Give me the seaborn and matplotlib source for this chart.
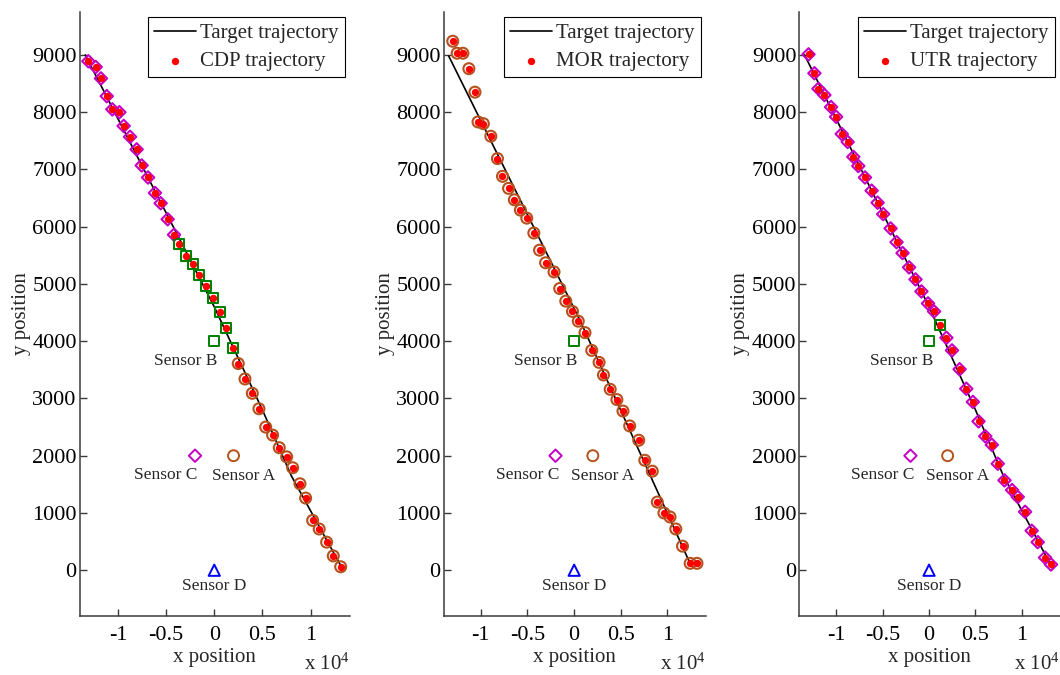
import matplotlib
matplotlib.use("Agg")
import matplotlib.pyplot as plt
import seaborn as sns
import numpy as np
import pandas as pd

# ---------------- data ----------------
sensor_names = ["A", "B", "C", "D"]
sensor_x = [2000, 0, -2000, 0]
sensor_y = [2000, 4000, 2000, 0]

target13_x = [-13400, 0, 5000, 8000, 13300]
target13_y = [9000, 4600, 2800, 1650, 30]
target2_x = [-13440, 610, 12500]
target2_y = [8980, 4370, 90]

cdp_x = [-13080, -12320, -11770, -11170, -10590, -9860, -9410, -8750, -8060, -7540,
         -6880, -6160, -5570, -4840, -4180,
         -3630, -2940, -2180, -1560, -860, -100, 590, 1210, 1910,
         2490, 3190, 3950, 4640, 5340, 6060, 6750, 7520, 8140, 8900, 9490, 10220,
         10900, 11670, 12360, 13130]
cdp_y = [8890, 8790, 8590, 8280, 8050, 8000, 7760, 7570, 7350, 7070,
         6860, 6590, 6410, 6130, 5860,
         5700, 5490, 5350, 5160, 4970, 4750, 4510, 4230, 3880,
         3610, 3340, 3090, 2820, 2500, 2360, 2140, 1980, 1790, 1510, 1260, 870,
         720, 490, 250, 60]
cdp_sensor = ["C"] * 15 + ["B"] * 9 + ["A"] * 16

mor_x = [-13010, -12540, -11920, -11280, -10630, -10300, -9730, -8930, -8220, -7680,
         -7030, -6410, -5760, -5080, -4320, -3710, -3060, -2160, -1550, -900,
         -180, 440, 1160, 1880, 2670, 3140, 3860, 4580, 5230, 5950,
         6920, 7570, 8370, 8910, 9620, 10270, 10890, 11610, 12430, 13160]
mor_y = [9240, 9030, 9030, 8760, 8350, 7830, 7800, 7580, 7190, 6880,
         6670, 6470, 6290, 6150, 5890, 5590, 5370, 5210, 4920, 4700,
         4520, 4350, 4150, 3840, 3630, 3410, 3160, 2980, 2780, 2520,
         2270, 1920, 1730, 1190, 1000, 930, 720, 420, 120, 120]
mor_sensor = ["A"] * 40

utr_x = [-12980, -12340, -11910, -11270, -10550, -10010, -9400, -8760, -8150, -7620,
         -6900, -6180, -5540, -4940, -4140, -3500, -2850, -2150, -1460, -820,
         -110, 540, 1150, 1870, 2470, 3290, 4010, 4720, 5330, 6050,
         6760, 7400, 8120, 8940, 9550, 10340, 11050, 11700, 12490, 13130]
utr_y = [9010, 8680, 8410, 8300, 8090, 7920, 7620, 7480, 7220, 7060,
         6860, 6630, 6420, 6220, 5970, 5730, 5540, 5290, 5080, 4870,
         4660, 4520, 4280, 4060, 3840, 3510, 3170, 2940, 2600, 2340,
         2190, 1860, 1570, 1400, 1280, 1020, 690, 490, 220, 100]
utr_sensor = ["C"] * 22 + ["B"] + ["C"] * 17

method_labels = ["CDP trajectory", "MOR trajectory", "UTR trajectory"]
x_ticks = [-10000, -5000, 0, 5000, 10000]
x_tick_labels = ["-1", "-0.5", "0", "0.5", "1"]
y_ticks = [0, 1000, 2000, 3000, 4000, 5000, 6000, 7000, 8000, 9000]
y_tick_labels = ["0", "1000", "2000", "3000", "4000", "5000", "6000", "7000", "8000", "9000"]

# ---------------- style ----------------
sns.set_style("ticks")
plt.rcParams["font.family"] = ["Liberation Serif", "DejaVu Serif"]
plt.rcParams["mathtext.fontset"] = "custom"
plt.rcParams["mathtext.rm"] = "Liberation Serif"
plt.rcParams["mathtext.default"] = "regular"

sensor_style = {
    "A": dict(marker="o", color="#B4521E", s=62),
    "B": dict(marker="s", color="#008000", s=54),
    "C": dict(marker="D", color="#C400C4", s=40),
    "D": dict(marker="^", color="#0000FF", s=66),
}
label_pos = {"A": (3100, 1650), "B": (-3000, 3650), "C": (-5000, 1660), "D": (0, -280)}

fig = plt.figure(figsize=(10.6, 6.75), dpi=100)
positions = [
    [0.075, 0.0874, 0.2552, 0.8948],
    [0.4184, 0.0874, 0.2474, 0.8948],
    [0.7538, 0.0874, 0.2462, 0.8948],
]

panels = [
    (cdp_x, cdp_y, cdp_sensor, target13_x, target13_y),
    (mor_x, mor_y, mor_sensor, target2_x, target2_y),
    (utr_x, utr_y, utr_sensor, target13_x, target13_y),
]

spine_col = "#3a3a3a"

for i, (px, py, ps, tx, ty) in enumerate(panels):
    ax = fig.add_axes(positions[i])
    df = pd.DataFrame({"x": px, "y": py, "sensor": ps})
    tdf = pd.DataFrame({"x": tx, "y": ty})

    sns.lineplot(data=tdf, x="x", y="y", ax=ax, color="black", linewidth=1.2,
                 sort=False, estimator=None, label="Target trajectory", zorder=2)

    # sensor-coded markers along the trajectory
    for sname in ["C", "B", "A"]:
        sub = df[df["sensor"] == sname]
        if len(sub) == 0:
            continue
        st = sensor_style[sname]
        sns.scatterplot(data=sub, x="x", y="y", ax=ax, marker=st["marker"], s=st["s"],
                        facecolor="none", edgecolor=st["color"], linewidth=1.5,
                        legend=False, zorder=3)

    # estimated points (red dots)
    sns.scatterplot(data=df, x="x", y="y", ax=ax, color="red", s=28, marker="o",
                    linewidth=0, label=method_labels[i], zorder=4)

    # sensors
    sdf = pd.DataFrame({"x": sensor_x, "y": sensor_y, "name": sensor_names})
    for _, r in sdf.iterrows():
        st = sensor_style[r["name"]]
        sns.scatterplot(x=[r["x"]], y=[r["y"]], ax=ax, marker=st["marker"], s=st["s"],
                        facecolor="none", edgecolor=st["color"], linewidth=1.4,
                        legend=False, zorder=3)
        lx, ly = label_pos[r["name"]]
        ax.text(lx, ly, "Sensor " + r["name"], fontsize=12.5, ha="center", va="center")

    ax.set_xlim(-14000, 14100)
    ax.set_ylim(-800, 9750)
    ax.set_xticks(x_ticks)
    ax.set_xticklabels(x_tick_labels)
    ax.set_yticks(y_ticks)
    ax.set_yticklabels(y_tick_labels)
    ax.tick_params(direction="in", length=5, width=1, colors=spine_col,
                   labelcolor="black", labelsize=16)
    ax.tick_params(axis="y", pad=2)
    ax.tick_params(axis="x", pad=7)
    sns.despine(ax=ax)
    for sp in ["left", "bottom"]:
        ax.spines[sp].set_color(spine_col)
        ax.spines[sp].set_linewidth(1.1)

    ax.set_xlabel("x position", fontsize=15, labelpad=2)
    ax.set_ylabel("y position", fontsize=15, labelpad=1)
    ax.text(1.0, -0.089, r"x 10$^{4}$", transform=ax.transAxes, ha="right",
            va="baseline", fontsize=15)

    handles, labels = ax.get_legend_handles_labels()
    leg = ax.legend(handles, labels, loc="upper right", fontsize=15, frameon=True,
                    fancybox=False, edgecolor="black", framealpha=1,
                    borderaxespad=0.25, borderpad=0.3, labelspacing=0.4,
                    handlelength=2.0, handletextpad=0.2, scatterpoints=1)
    leg.get_frame().set_linewidth(0.8)

fig.savefig("out.png", dpi=100)
